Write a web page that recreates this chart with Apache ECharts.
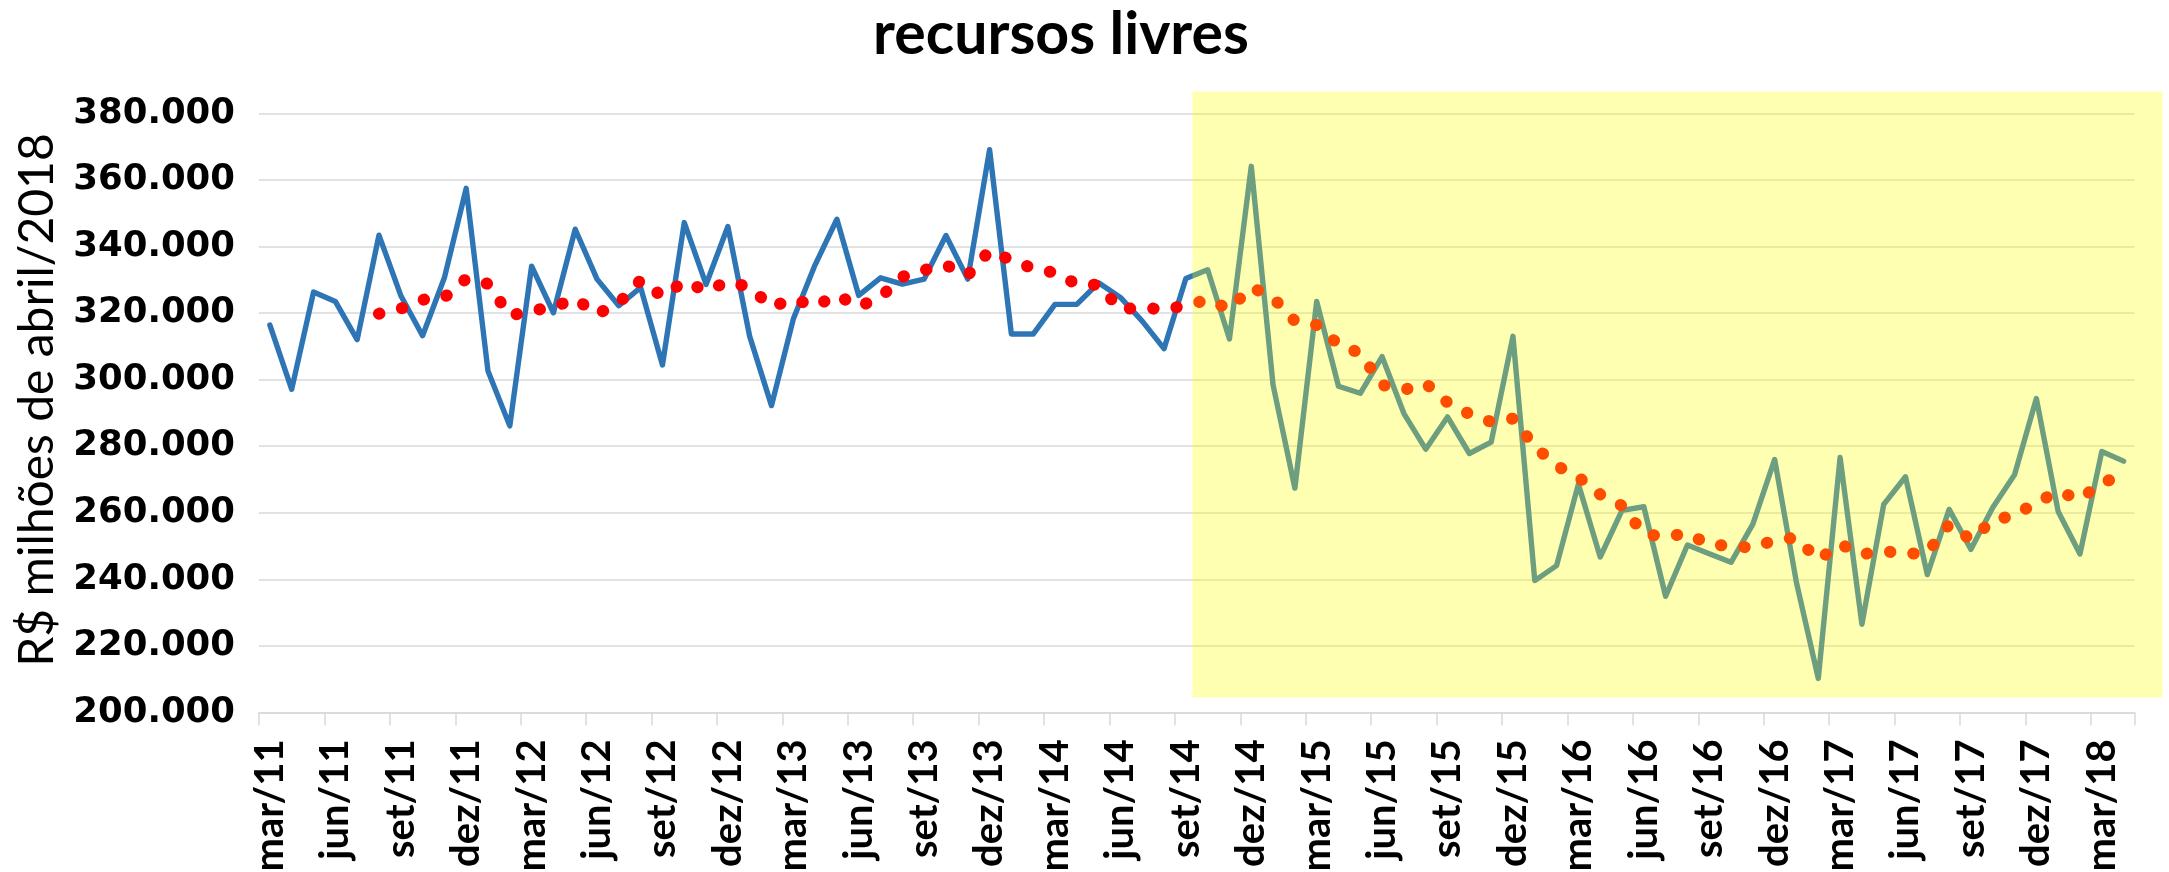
<!DOCTYPE html>
<html>
<head>
<meta charset="utf-8">
<script src="https://cdn.jsdelivr.net/npm/echarts@6/dist/echarts.min.js"></script>
<style>
html,body{margin:0;padding:0;background:#fff;}
#c{width:2169px;height:872px;}
</style>
</head>
<body>
<div id="c"></div>
<script>
// ---- data (R$ milhões de abril/2018) ----
const categories = [
 'mar/11','abr/11','mai/11','jun/11','jul/11','ago/11','set/11','out/11','nov/11','dez/11',
 'jan/12','fev/12','mar/12','abr/12','mai/12','jun/12','jul/12','ago/12','set/12','out/12','nov/12','dez/12',
 'jan/13','fev/13','mar/13','abr/13','mai/13','jun/13','jul/13','ago/13','set/13','out/13','nov/13','dez/13',
 'jan/14','fev/14','mar/14','abr/14','mai/14','jun/14','jul/14','ago/14','set/14','out/14','nov/14','dez/14',
 'jan/15','fev/15','mar/15','abr/15','mai/15','jun/15','jul/15','ago/15','set/15','out/15','nov/15','dez/15',
 'jan/16','fev/16','mar/16','abr/16','mai/16','jun/16','jul/16','ago/16','set/16','out/16','nov/16','dez/16',
 'jan/17','fev/17','mar/17','abr/17','mai/17','jun/17','jul/17','ago/17','set/17','out/17','nov/17','dez/17',
 'jan/18','fev/18','mar/18','abr/18'
];
const recursosLivres = [
 316400,297100,326300,323500,312000,343400,325300,313200,330600,357500,
 302600,286100,334100,320100,345200,330200,322200,327700,304400,347200,328600,346000,
 313000,292200,318200,334500,348200,325300,330600,328700,330200,343300,330200,369100,
 313700,313700,322600,322600,329100,324700,317600,309300,330400,333000,312200,364100,
 298400,267400,323500,298000,295900,306900,289800,279100,288800,277800,281200,313000,
 239600,244100,268600,246700,260700,261800,234900,250300,247700,245100,256600,276000,
 239000,210200,276600,226500,262500,270800,241400,261000,249000,261600,271400,294300,
 260400,247600,278400,275500
];
// média móvel (6 períodos)
const mediaMovel = [
 null,null,null,null,null,319800,321300,324000,324700,330300,
 328800,319200,320700,321800,324300,319700,323000,329900,325000,329500,326700,329400,
 327800,321900,324200,322100,325400,321900,324800,330900,332900,334400,331400,338700,
 335900,333400,332100,328700,328500,321100,321700,321000,322300,324000,321200,327800,
 324600,317600,316400,310600,307900,298400,296900,298900,293100,289700,287300,288300,
 279900,274100,270700,265500,262100,253600,252800,253800,250400,250100,249400,251800,
 252500,245800,250600,247500,248500,247600,248000,256500,251900,257700,259200,263100,
 266300,264100,269000,271300
];
const yTicks = [200000,220000,240000,260000,280000,300000,320000,340000,360000,380000];
const titleText = 'recursos livres';
const yName = 'R$ milhões de abril/2018';
// destaque (período realçado)
const highlightStartIndex = 42;
const highlightTop = 386600;
const highlightBottom = 204500;

function fmt(v){ return String(v).replace(/\B(?=(\d{3})+(?!\d))/g,'.'); }

const chart = echarts.init(document.getElementById('c'), null, {renderer:'canvas', width:2169, height:872});
const option = {
  backgroundColor:'#ffffff',
  animation:false,
  grid:{left:259, right:34.5, top:113.4, bottom:159.6, containLabel:false, outerBoundsMode:'none'},
  xAxis:{
    type:'category', data:categories, boundaryGap:true,
    axisLine:{show:true, lineStyle:{color:'#D9D9D9', width:1.5}},
    axisTick:{show:true, interval:2, length:13, lineStyle:{color:'#D9D9D9', width:1.5}},
    axisLabel:{interval:2, rotate:90, margin:27, color:'#000', fontFamily:'Lato', fontWeight:'bold', fontSize:40},
    splitLine:{show:false}
  },
  yAxis:{
    type:'value', min:yTicks[0], max:yTicks[yTicks.length-1], interval:20000,
    axisLine:{show:false}, axisTick:{show:false},
    axisLabel:{formatter:fmt, margin:24, color:'#000', fontFamily:'DejaVu Sans', fontWeight:'bold', fontSize:35.5},
    splitLine:{show:true, lineStyle:{color:'#D9D9D9', width:1.5}}
  },
  series:[
    {type:'line', data:recursosLivres, symbol:'none', z:2,
     lineStyle:{color:'#2E75B6', width:5.4, join:'round', cap:'round'}},
    {type:'line', data:mediaMovel, symbol:'none', z:3, connectNulls:false,
     lineStyle:{color:'#FF0000', width:12, type:[0.5,23], cap:'round', join:'round'}}
  ]
};
chart.setOption(option);

function overlay(){
  const xa = chart.convertToPixel({xAxisIndex:0}, highlightStartIndex);
  const xb = chart.convertToPixel({xAxisIndex:0}, highlightStartIndex+1);
  const band = xb - xa;
  const xl = xa + 0.3*band;
  const xEnd = chart.convertToPixel({xAxisIndex:0}, categories.length-1) + 0.5*band + 28;
  const yt = chart.convertToPixel({yAxisIndex:0}, highlightTop);
  const yb = chart.convertToPixel({yAxisIndex:0}, highlightBottom);
  chart.setOption({graphic:[
    {type:'rect', id:'hl', z:100, silent:true, shape:{x:xl, y:yt, width:xEnd-xl, height:yb-yt},
     style:{fill:'rgba(255,255,0,0.3)'}},
    {type:'text', id:'title', z:101, x:1061, y:35,
     style:{text:titleText, align:'center', verticalAlign:'middle', fill:'#000', font:'bold 59px Lato'}},
    {type:'text', id:'yname', z:101, x:38, y:400, rotation:Math.PI/2,
     style:{text:yName, align:'center', verticalAlign:'middle', fill:'#000', font:'48px Lato'}}
  ]});
}
overlay();
</script>
</body>
</html>
